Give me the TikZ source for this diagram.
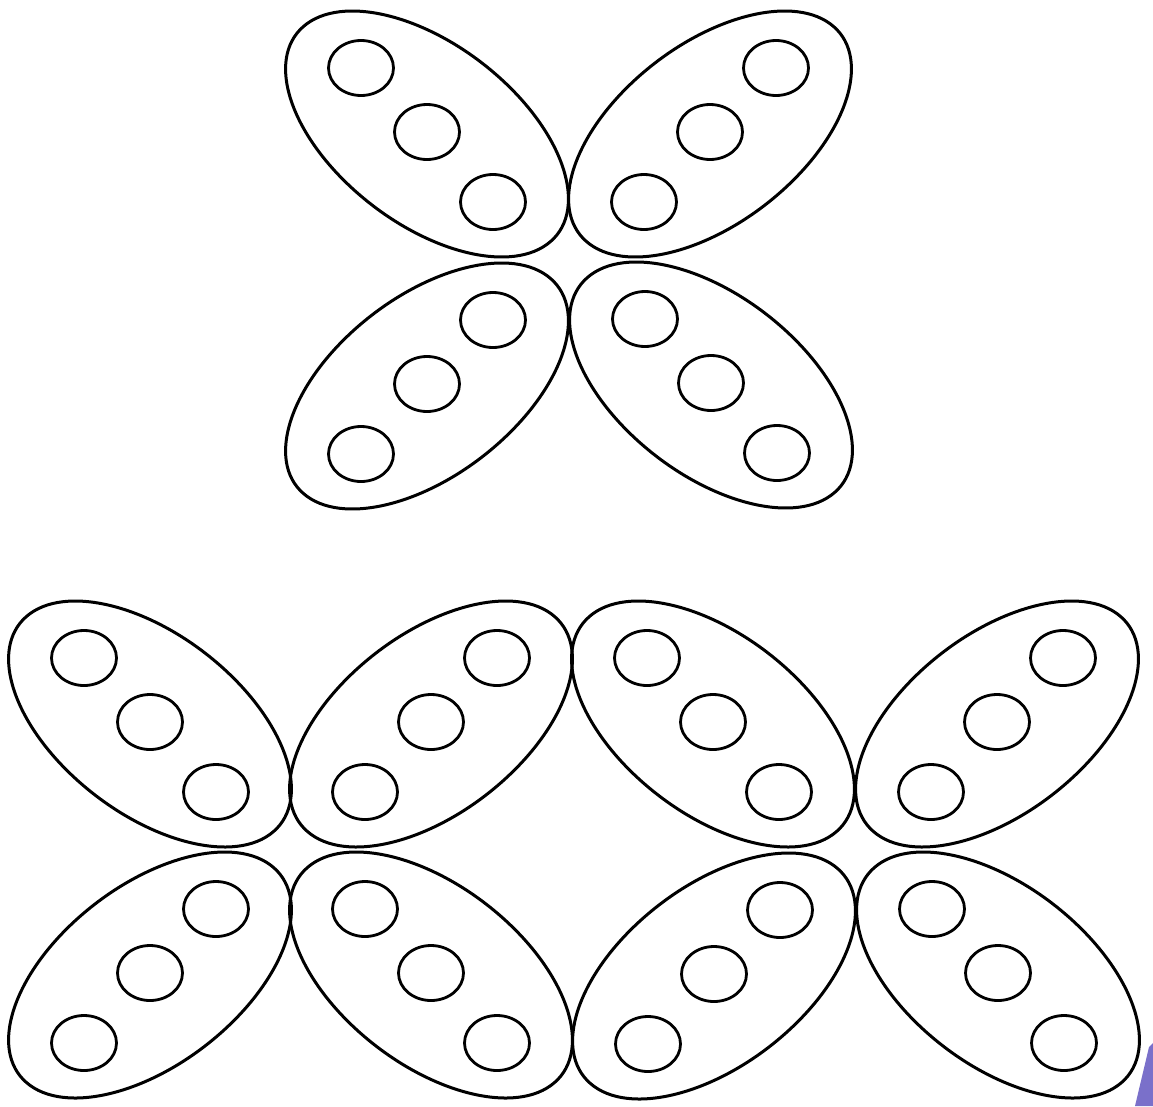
\documentclass[tikz,border=0pt]{standalone}
\begin{document}
\begin{tikzpicture}[x=1pt,y=1pt,
  petal/.style={line width=3pt, black},
  seed/.style={line width=2.8pt, black}]
\useasboundingbox (0,0) rectangle (1153,-1106);
\newcommand{\drawpetal}[3]{%
  \begin{scope}[shift={(#1,-#2)}]
    \draw[petal, xscale=1.15, rotate={45*#3}] (0,0) ellipse [x radius=152, y radius=84.5];
    \draw[seed] ({#3*66},66) ellipse [x radius=32.5, y radius=27.5];
    \draw[seed] (0,2) ellipse [x radius=32.5, y radius=27.5];
    \draw[seed] ({-#3*66},-68) ellipse [x radius=32.5, y radius=27.5];
  \end{scope}}
% top group
\drawpetal{427}{134}{-1}
\drawpetal{710}{134}{1}
\drawpetal{427}{386}{1}
\drawpetal{711}{385}{-1}
% bottom group, first row
\drawpetal{150}{724}{-1}
\drawpetal{431}{724}{1}
\drawpetal{713}{724}{-1}
\drawpetal{997}{724}{1}
% bottom group, second row
\drawpetal{150}{975}{1}
\drawpetal{431}{975}{-1}
\drawpetal{714}{976}{1}
\drawpetal{998}{975}{-1}
% partial shape at the corner
\fill[fill={rgb,255:red,122;green,112;blue,202}] (1153,-1043) -- (1149,-1047) -- (1135,-1106) -- (1153,-1106) -- cycle;
\end{tikzpicture}
\end{document}
